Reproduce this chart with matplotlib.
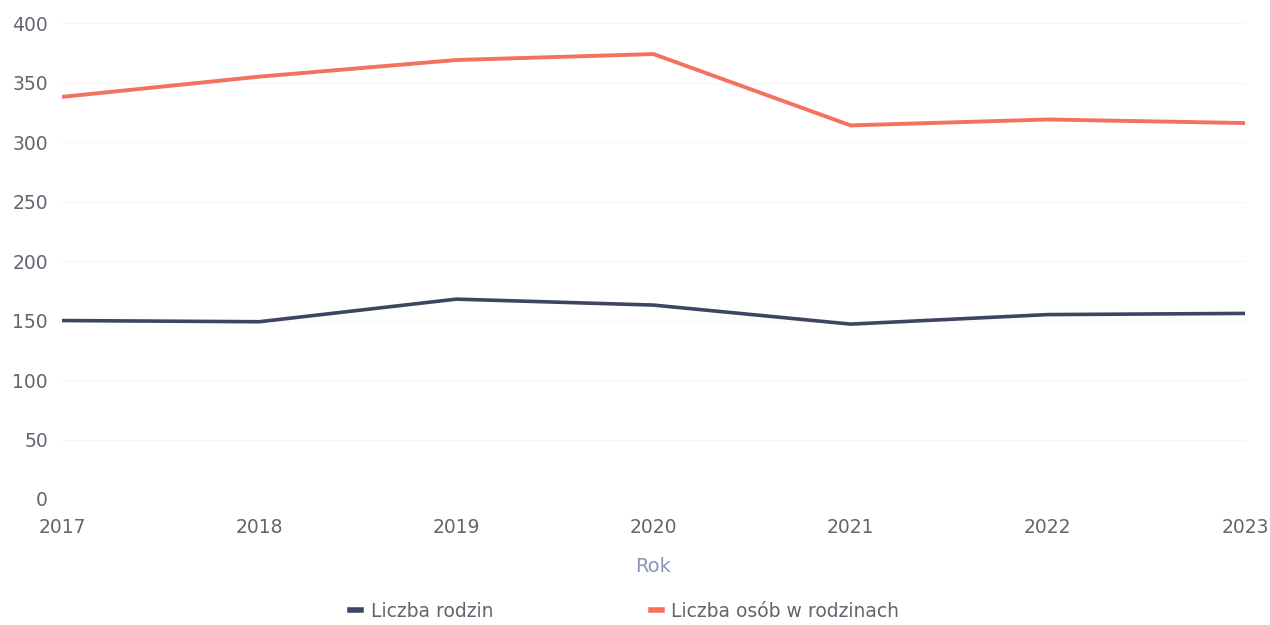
import matplotlib.pyplot as plt
import matplotlib.ticker as mticker

years = [2017, 2018, 2019, 2020, 2021, 2022, 2023]
families = [150, 149, 168, 163, 147, 155, 156]
persons = [338, 355, 369, 374, 314, 319, 316]

TEXT = "#62656f"

fig = plt.figure(figsize=(12.7, 6.25), dpi=100)
ax = fig.add_axes([0.0488, 0.2016, 0.9315, 0.7614])

ax.plot(years, families, color="#3d4660", linewidth=2.6, label="Liczba rodzin")
ax.plot(years, persons, color="#f4715f", linewidth=2.8, label="Liczba osób w rodzinach")

ax.set_xlim(2017, 2023)
ax.set_ylim(0, 400)
ax.yaxis.set_major_locator(mticker.MultipleLocator(50))
ax.set_xticks(years)
ax.grid(axis="y", color="#f5f5f5", linewidth=0.8)
for s in ax.spines.values():
    s.set_visible(False)
ax.tick_params(length=0, labelsize=13.5, labelcolor=TEXT)
ax.tick_params(axis="x", pad=14)
ax.tick_params(axis="y", pad=10)
ax.set_xlabel("Rok", fontsize=14, color="#8a94b4", labelpad=14)

leg = fig.legend(loc="lower center", bbox_to_anchor=(0.492, -0.02), ncol=2, frameon=False,
                 fontsize=13.5, labelcolor=TEXT, columnspacing=8.4, handlelength=0.6,
                 handletextpad=0.5)
for line in leg.get_lines():
    line.set_linewidth(4)

fig.savefig("out.png", dpi=100)
